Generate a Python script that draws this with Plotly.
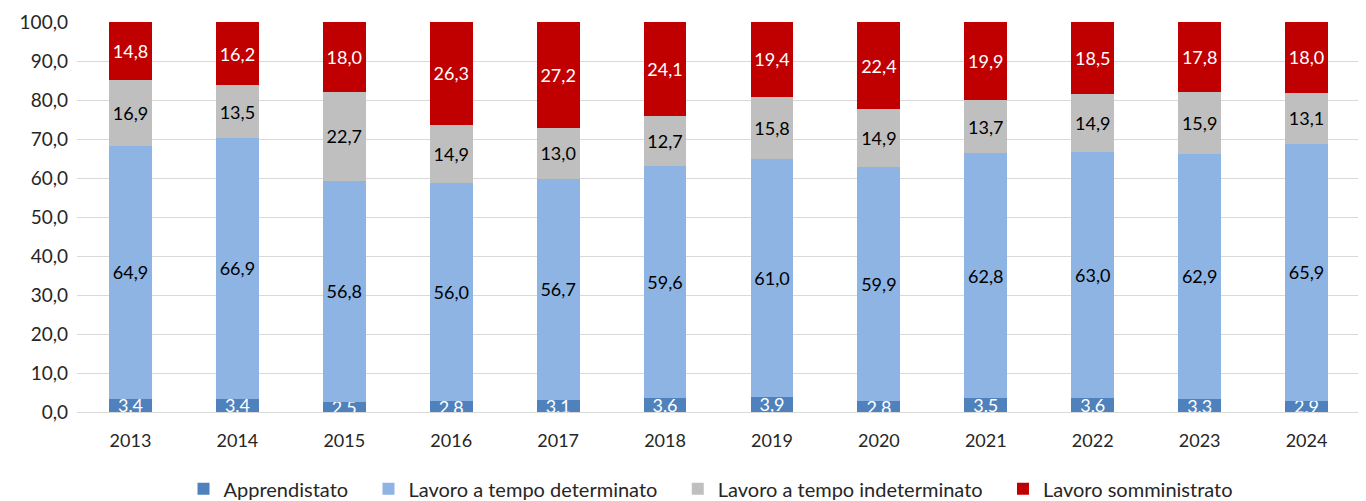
import plotly.graph_objects as go

years = ["2013", "2014", "2015", "2016", "2017", "2018", "2019", "2020", "2021", "2022", "2023", "2024"]
apprendistato = [3.4, 3.4, 2.5, 2.8, 3.1, 3.6, 3.9, 2.8, 3.5, 3.6, 3.3, 2.9]
determinato = [64.9, 66.9, 56.8, 56.0, 56.7, 59.6, 61.0, 59.9, 62.8, 63.0, 62.9, 65.9]
indeterminato = [16.9, 13.5, 22.7, 14.9, 13.0, 12.7, 15.8, 14.9, 13.7, 14.9, 15.9, 13.1]
somministrato = [14.8, 16.2, 18.0, 26.3, 27.2, 24.1, 19.4, 22.4, 19.9, 18.5, 17.8, 18.0]

series = [
    ("Apprendistato", apprendistato, "#4F81BD", "white"),
    ("Lavoro a tempo determinato", determinato, "#8EB4E3", "black"),
    ("Lavoro a tempo indeterminato", indeterminato, "#BFBFBF", "black"),
    ("Lavoro somministrato", somministrato, "#C00000", "white"),
]

FONT = "Lato"
PAD = "\u00a0" * 3
fig = go.Figure()
for name, vals, color, tcolor in series:
    fig.add_trace(go.Bar(
        x=years, y=vals, name=name + PAD,
        marker=dict(color=color, line=dict(width=0)),
        texttemplate="%{y:.1f}", textposition="inside",
        insidetextanchor="middle", constraintext="none",
        textangle=0, cliponaxis=True,
        textfont=dict(family=FONT, size=18, color=tcolor),
        hoverinfo="skip",
    ))

fig.update_layout(
    barmode="stack",
    bargap=0.6,
    separators=",.",
    width=1358, height=493,
    margin=dict(l=69, r=6, t=14, b=89, autoexpand=False),
    paper_bgcolor="white", plot_bgcolor="white",
    font=dict(family=FONT, size=18, color="#262626"),
    showlegend=True,
    legend=dict(orientation="h", x=0.5, xanchor="center", y=-0.197, yanchor="middle",
                font=dict(family=FONT, size=20, color="#262626"),
                traceorder="normal", itemwidth=30),
    uniformtext=dict(mode=False),
)
fig.update_yaxes(range=[0, 100], dtick=10, tickformat=".1f", showgrid=True,
                 gridcolor="#D9D9D9", gridwidth=1.3, zeroline=True, zerolinecolor="#D9D9D9",
                 zerolinewidth=1.3, ticks="", ticklabelstandoff=8, automargin=False,
                 tickfont=dict(family=FONT, size=19, color="#262626"))
fig.update_xaxes(showgrid=False, ticks="", showline=False, ticklabelstandoff=16,
                 automargin=False,
                 tickfont=dict(family=FONT, size=18, color="#262626"))

fig.write_html("out.html")
